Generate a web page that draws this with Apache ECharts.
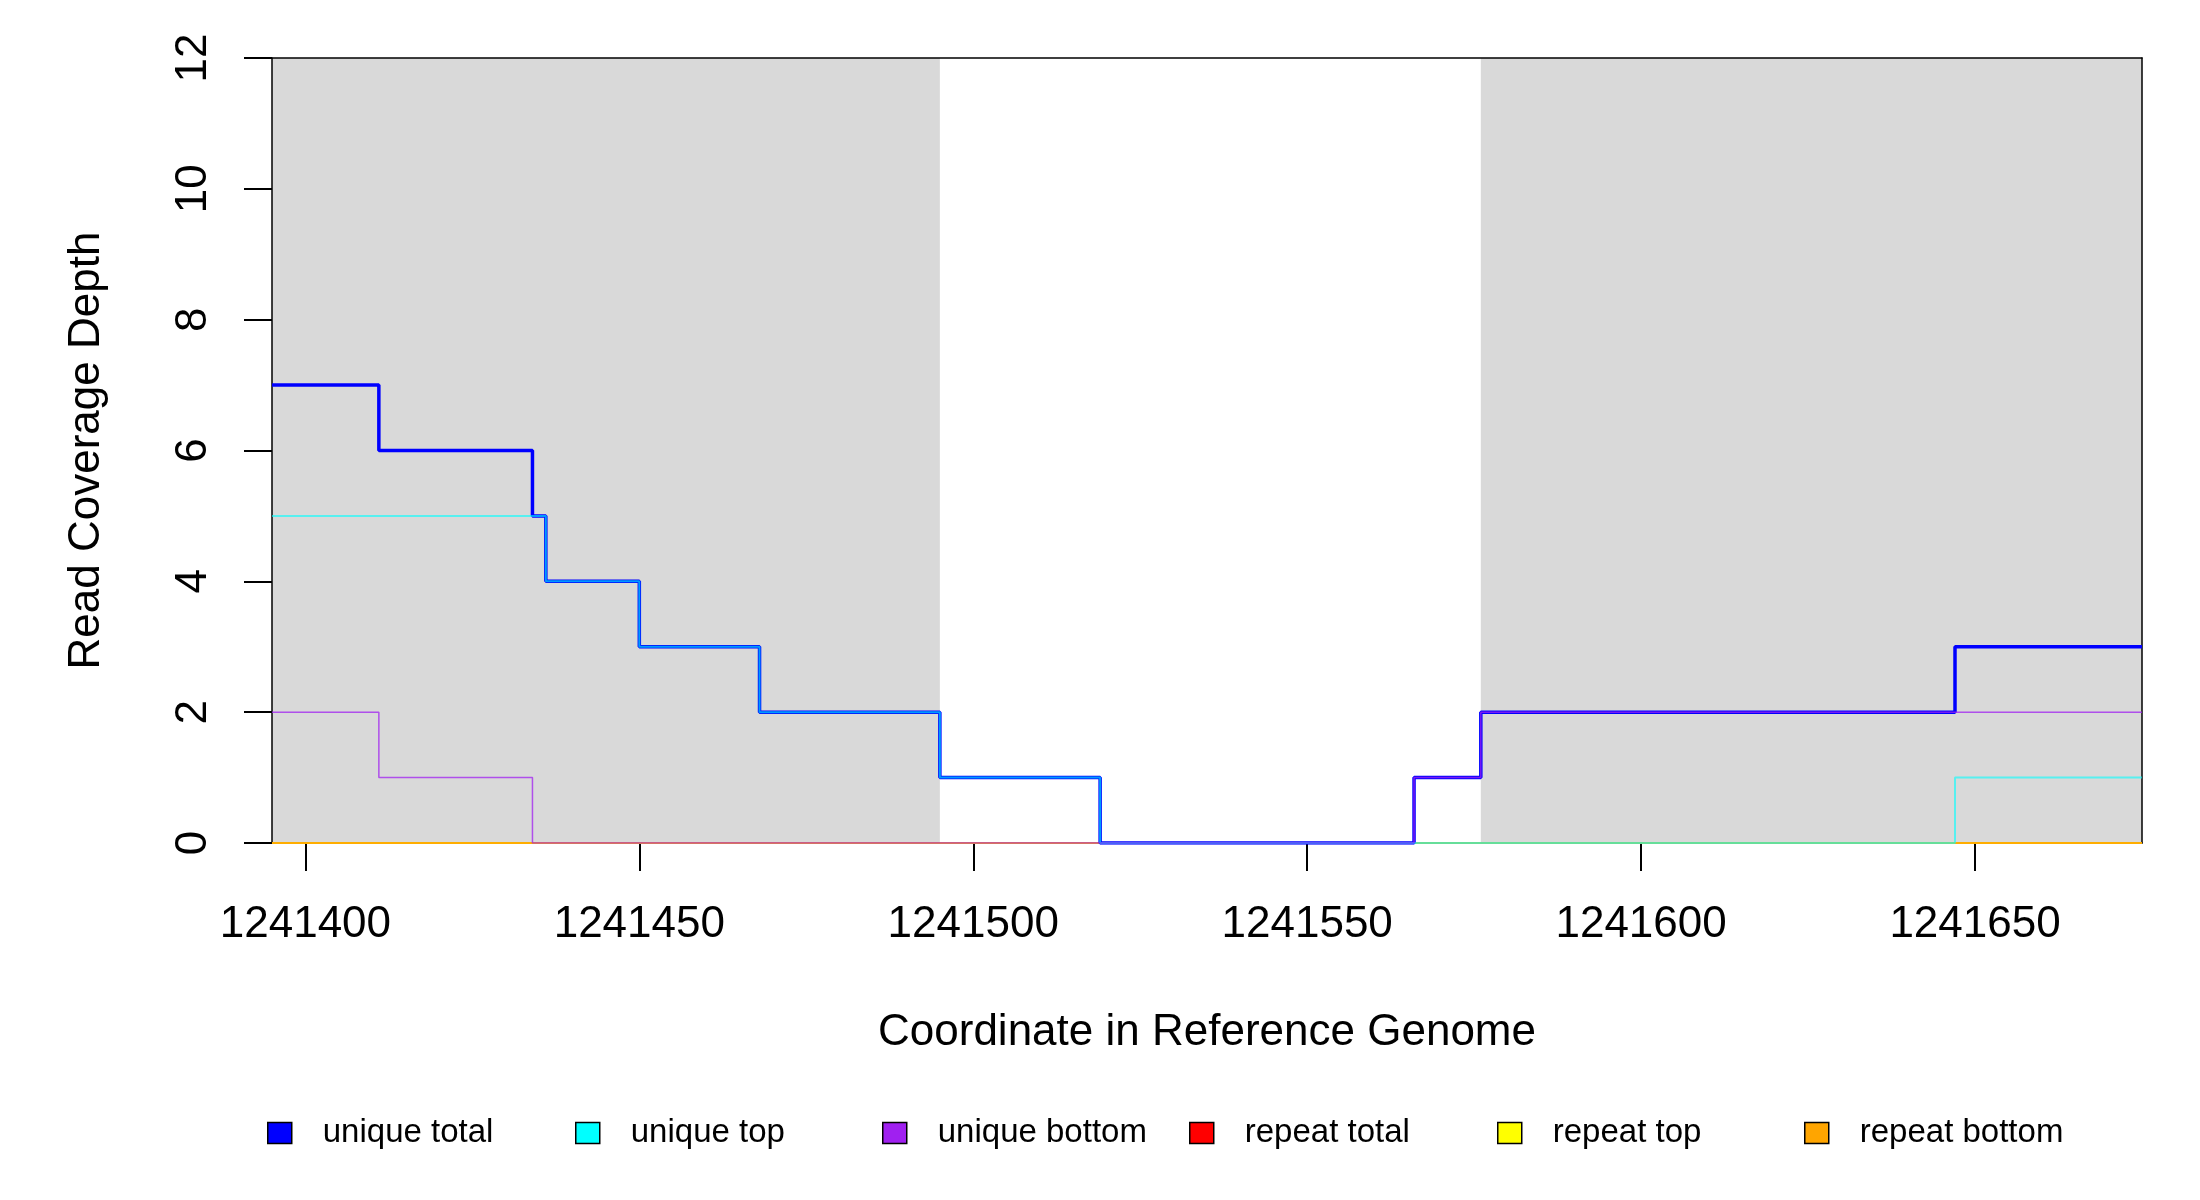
<!DOCTYPE html>
<html>
<head>
<meta charset="utf-8">
<script src="https://cdn.jsdelivr.net/npm/echarts@6/dist/echarts.min.js"></script>
<style>
  html, body { margin: 0; padding: 0; background: #fff; }
  #chart { width: 2200px; height: 1200px; }
</style>
</head>
<body>
<div id="chart"></div>
<script>
// coverage breakpoints (value holds from each position to the next)
const positions = [1241395, 1241411, 1241434, 1241436, 1241450, 1241468, 1241495, 1241519, 1241566, 1241576, 1241647, 1241675];
const uniqueTotal  = [7, 6, 5, 4, 3, 2, 1, 0, 1, 2, 3, 3];
const uniqueTop    = [5, 5, 5, 4, 3, 2, 1, 0, 0, 0, 1, 1];
const uniqueBottom = [2, 1, 0, 0, 0, 0, 0, 0, 1, 2, 2, 2];
const repeatTotal  = [0, 0, 0, 0, 0, 0, 0, 0, 0, 0, 0, 0];
const repeatTop    = [0, 0, 0, 0, 0, 0, 0, 0, 0, 0, 0, 0];
const repeatBottom = [0, 0, 0, 0, 0, 0, 0, 0, 0, 0, 0, 0];

// shaded (exon) regions
const exonStarts = [1241395, 1241576];
const exonEnds   = [1241495, 1241675];

const xTicks = [1241400, 1241450, 1241500, 1241550, 1241600, 1241650];
const yTicks = [0, 2, 4, 6, 8, 10, 12];

const seriesNames = ['unique total', 'unique top', 'unique bottom', 'repeat total', 'repeat top', 'repeat bottom'];
const seriesValues = [uniqueTotal, uniqueTop, uniqueBottom, repeatTotal, repeatTop, repeatBottom];
const seriesColors = ['#0000ff', '#00ffff', '#a020f0', '#ff0000', '#ffff00', '#ffa500'];
const lineWidths = [3.5, 2, 1.5, 2, 2, 2];
const lineOpacity = [1, 0.6, 0.75, 0.8, 0.8, 0.8];
const lineZ = [7, 8, 9, 4, 5, 6];
const legendLeft = [262, 570, 877, 1184, 1492, 1799];

const FONT = 'Liberation Sans';
const xmin = positions[0], xmax = positions[positions.length - 1];

let myChart = echarts.init(document.getElementById('chart'));

let series = seriesNames.map((name, i) => ({
  name: name,
  type: 'line',
  step: 'end',
  symbol: 'none',
  z: lineZ[i],
  color: seriesColors[i],
  lineStyle: { color: seriesColors[i], width: lineWidths[i], opacity: lineOpacity[i] },
  data: positions.map((p, k) => [p, seriesValues[i][k]])
}));

// background shading series
series.unshift({
  name: 'shade',
  type: 'line',
  z: 1,
  symbol: 'none',
  data: [],
  markArea: {
    silent: true,
    itemStyle: { color: '#d9d9d9' },
    data: exonStarts.map((s, i) => [{ xAxis: s }, { xAxis: exonEnds[i] }])
  }
});

let legends = seriesNames.map((name, i) => ({
  data: [name],
  left: legendLeft[i],
  top: 1107,
  icon: 'rect',
  itemWidth: 24,
  itemHeight: 21,
  selectedMode: false,
  itemStyle: { borderColor: '#000', borderWidth: 1.5 },
  textStyle: { fontFamily: FONT, fontSize: 33, color: '#000', lineHeight: 42, padding: [0, 0, 0, 26] }
}));

let option = {
  animation: false,
  backgroundColor: '#fff',
  grid: { left: 272, top: 58, width: 1870, height: 785 },
  legend: legends,
  xAxis: [
    {
      type: 'value',
      min: xmin,
      max: xmax,
      z: 3,
      name: 'Coordinate in Reference Genome',
      nameLocation: 'middle',
      nameGap: 168,
      nameTextStyle: { fontFamily: FONT, fontSize: 44, color: '#000' },
      axisLine: { show: true, lineStyle: { color: '#000', width: 1.5 } },
      axisTick: { show: true, length: 28, customValues: xTicks, lineStyle: { color: '#000', width: 2 } },
      axisLabel: {
        customValues: xTicks,
        margin: 60,
        fontFamily: FONT, fontSize: 44, color: '#000',
        formatter: v => String(v)
      },
      splitLine: { show: false }
    },
    {
      type: 'value', position: 'top', min: xmin, max: xmax, z: 3,
      axisLine: { show: true, onZero: false, lineStyle: { color: '#000', width: 1.5 } },
      axisTick: { show: false }, axisLabel: { show: false }, splitLine: { show: false }
    }
  ],
  yAxis: [
    {
      type: 'value',
      min: 0,
      max: 12,
      interval: 2,
      z: 3,
      name: 'Read Coverage Depth',
      nameLocation: 'middle',
      nameGap: 163,
      nameTextStyle: { fontFamily: FONT, fontSize: 44, color: '#000' },
      axisLine: { show: true, lineStyle: { color: '#000', width: 1.5 } },
      axisTick: { show: true, length: 28, lineStyle: { color: '#000', width: 2 } },
      axisLabel: {
        rotate: 90,
        margin: 56,
        fontFamily: FONT, fontSize: 44, color: '#000',
        formatter: v => (yTicks.indexOf(v) >= 0 ? String(v) : '')
      },
      splitLine: { show: false }
    },
    {
      type: 'value', position: 'right', min: 0, max: 12, z: 3,
      axisLine: { show: true, onZero: false, lineStyle: { color: '#000', width: 1.5 } },
      axisTick: { show: false }, axisLabel: { show: false }, splitLine: { show: false }
    }
  ],
  series: series
};

myChart.setOption(option);
</script>
</body>
</html>
